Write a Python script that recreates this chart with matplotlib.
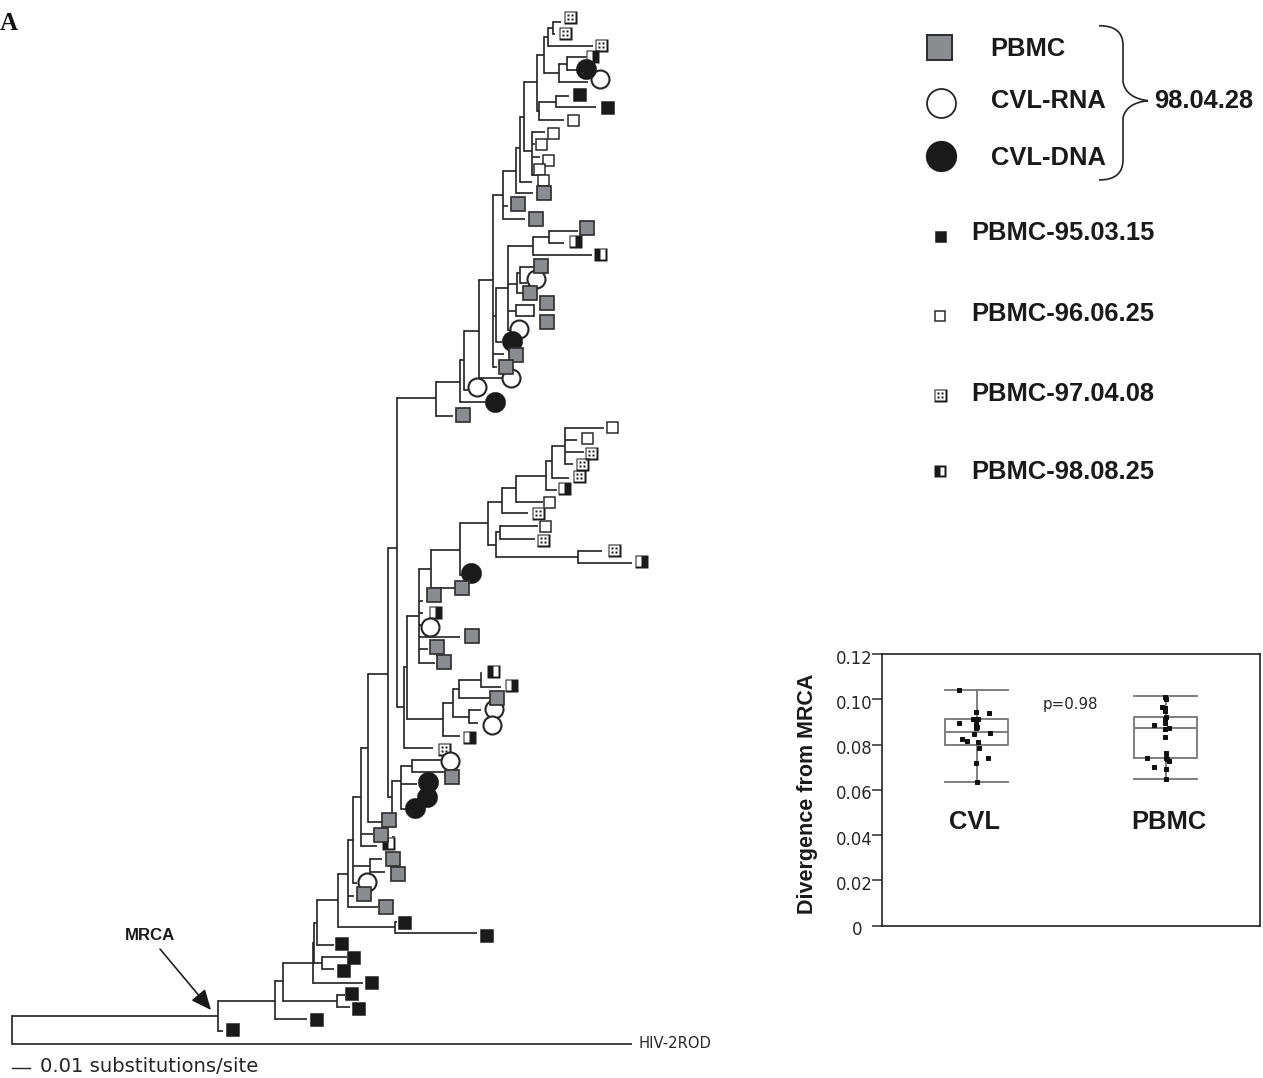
import matplotlib
matplotlib.use("Agg")
import matplotlib.pyplot as plt
from matplotlib.path import Path
from matplotlib.patches import PathPatch
from matplotlib.transforms import ScaledTranslation

# ---------- tree: (node position, [(child position along tips, branch end), ...]) ----------
TREE_NODES = [
    (11.7, [(1016, 217.7), (1044.3, 632)]),
    (217.7, [(1000.7, 275), (1030.7, 223.3)]),
    (275, [(981, 282.7), (1019, 306.7)]),
    (282.7, [(962.7, 312.7), (1000.7, 336.7)]),
    (336.7, [(995, 345), (1006.7, 350)]),
    (312.7, [(943, 312.7), (962.7, 321.7), (983, 362.7)]),
    (314, [(922.7, 316.7), (962.7, 314)]),
    (316.7, [(900, 338.3), (945, 334.3)]),
    (321.7, [(956.7, 346.7), (969.3, 334.3)]),
    (338.3, [(874.3, 348.3), (927.3, 395)]),
    (395, [(921.7, 397.3), (933.3, 477)]),
    (348.3, [(840, 352.7), (895.7, 354.3), (907.3, 378.3)]),
    (352.7, [(797.3, 360.7), (866, 370), (883.3, 356.7)]),
    (370, [(858.7, 382.3), (871.7, 385)]),
    (360.7, [(748.3, 368), (834, 373.3), (846, 376.7)]),
    (394, [(836.7, 392), (848, 384)]),
    (368, [(674.3, 387.7), (822, 381.7)]),
    (388, [(548, 396.7), (796.7, 391.7)]),
    (391.7, [(780.7, 401), (812, 391.7)]),
    (401, [(766, 411.7), (784, 416.7), (809.3, 406.7)]),
    (411.7, [(760, 440.7), (771.7, 445)]),
    (396.7, [(398.3, 435.7), (707.3, 404)]),
    (404, [(666.7, 407.3), (748.3, 432.7)]),
    (407.3, [(615.7, 419.3), (719.3, 442.7)]),
    (419.3, [(569.3, 431), (601, 423.3), (612.7, 423.3), (625, 425),
             (637.3, 460), (649, 427.7), (662.7, 435)]),
    (442.7, [(703.3, 452.7), (736, 460)]),
    (452.7, [(689.3, 459.3), (716.7, 469)]),
    (459.3, [(680, 480.7), (698.3, 490)]),
    (480.7, [(673.3, 480.7), (686.7, 500.7)]),
    (469, [(710, 481), (722.7, 478)]),
    (431, [(550, 460), (587.7, 455)]),
    (460, [(522.7, 488.3), (575, 462)]),
    (488.3, [(501.7, 502.3), (545, 495.7)]),
    (502.3, [(488.3, 515.7), (513.3, 528.3)]),
    (515.7, [(476, 545.7), (501.7, 542.7)]),
    (545.7, [(460.7, 551.7), (490, 556.7)]),
    (551.7, [(446, 565), (478.3, 569)]),
    (565, [(428.3, 604), (440, 577.3), (452, 584.3), (464.3, 573.3)]),
    (495.7, [(531.7, 500), (556.7, 578.3)]),
    (500, [(526, 537.7), (539, 535)]),
    (578.3, [(551.3, 601.7), (563.3, 631.7)]),
    (435.7, [(381.7, 460), (415.7, 453)]),
    (460, [(360, 464.3), (402.3, 486.7)]),
    (464.3, [(330.7, 479.3), (390, 468)]),
    (479.3, [(280, 492.7), (378.3, 502.7)]),
    (492.7, [(195, 503.3), (316, 495.7), (354.3, 504), (366.7, 496.7)]),
    (495.7, [(288.3, 507.7), (342.3, 501.7)]),
    (507.7, [(246, 533.3), (284, 517.3), (310.7, 515.7), (330, 512)]),
    (533.3, [(236.7, 549), (255, 591.7)]),
    (549, [(231.3, 578), (242.7, 564)]),
    (517.3, [(273.3, 520), (292.7, 523)]),
    (520, [(266.7, 534), (283, 527)]),
    (515.7, [(305, 534), (316, 534)]),
    (534, [(305, 534), (316, 534)]),
    (503.3, [(170.7, 516), (205.7, 508), (219, 525)]),
    (516, [(148, 520), (193, 533)]),
    (520, [(116.7, 524.3), (181.7, 532)]),
    (524.3, [(81.7, 536.7), (151, 531.7)]),
    (536.7, [(55, 544), (111, 539.3)]),
    (544, [(37, 548.3), (72.7, 559)]),
    (548.3, [(28, 552.7), (46, 593)]),
    (552.7, [(21.7, 561), (34, 554.7)]),
    (559, [(64, 566.7), (82, 588)]),
    (566.7, [(57, 590), (70, 577)]),
    (539.3, [(101.7, 556.3), (120, 564)]),
    (556.3, [(95.7, 569), (107.3, 595.7)]),
    (531.7, [(131.7, 545), (144, 535), (156.7, 540), (175, 541)]),
    (543, [(163, 545), (175, 545)]),
]

# ---------- tips by sample type ----------
tips_pbmc_950315 = [(231.7, 1028.7), (316.3, 1019), (357.7, 1007.7), (351.3, 993.3), (371.3, 982),
                    (343, 970), (353.3, 956.7), (341.3, 943.3), (403.7, 921.7), (486, 935),
                    (579, 94), (607, 107)]
tips_pbmc_960625 = [(573, 120), (553, 133), (541, 144), (548, 160), (539, 169), (543, 180),
                    (611.7, 427.3), (587, 438), (549, 501.7), (544.7, 526.3)]
tips_pbmc_970408 = [(570, 17), (565, 33), (601, 45), (590.7, 453.3), (582.3, 464.3), (579, 476),
                    (537.7, 512.7), (542.7, 539.7), (614.3, 550.3), (444.3, 748.7)]
tips_pbmc_980825 = [(592, 56, "right"), (574.7, 241.3, "right"), (600, 254, "left"),
                    (563.7, 488, "right"), (641.3, 561.3, "right"), (434.7, 612, "right"),
                    (492.7, 671.3, "left"), (511, 685.3, "right"), (468.7, 737, "right"),
                    (388.3, 843, "left")]
tips_pbmc_980428 = [(544, 193), (518, 204), (536, 219), (587, 227.7), (540.7, 266.3), (529.7, 293),
                    (546.7, 303.3), (546.7, 322.3), (515.7, 355), (505.7, 367), (463, 415.3),
                    (462, 587.7), (434, 595), (471.7, 636), (437.3, 647.3), (443.7, 661.7),
                    (496.7, 698), (452.3, 776.7), (389.3, 820), (381.3, 835), (393.3, 859.3),
                    (398.3, 874), (363.7, 894.3), (386.3, 907.3)]
tips_cvl_rna = [(600, 79), (535.7, 279.3), (518.7, 329.3), (511, 378.3), (476.7, 387.3),
                (430, 626.7), (494, 709.3), (491.7, 725), (450, 761), (366.7, 881.7)]
tips_cvl_dna = [(586, 69), (512.3, 340.7), (495, 401.7), (471, 572.7),
                (428, 781.7), (427.3, 797.3), (415.3, 807.7)]

# ---------- box plot ----------
box_labels = ["CVL", "PBMC"]
cvl_stats = dict(whislo=0.0635, q1=0.0800, med=0.0855, q3=0.0915, whishi=0.1040)
pbmc_stats = dict(whislo=0.0648, q1=0.0740, med=0.0875, q3=0.0922, whishi=0.1013)
cvl_jitter = [-0.093, -0.004, 0.063, -0.093, -0.019, -0.007, 0.005, -0.004, 0, -0.004,
              -0.012, 0.072, -0.076, -0.051, 0.005, 0.012, 0.060, -0.005, 0.002]
cvl_values = [0.1041, 0.0945, 0.0938, 0.0895, 0.0911, 0.0911, 0.0911, 0.0893, 0.0876, 0.0872,
              0.0848, 0.0851, 0.0824, 0.0816, 0.0810, 0.0786, 0.0741, 0.0718, 0.0635]
pbmc_jitter = [-0.002, 0.002, -0.019, -0.005, -0.004, 0.002, -0.002, -0.005, -0.062, 0.018,
               -0.004, -0.004, 0.002, -0.099, 0, 0.005, 0.018, -0.062, 0, 0.002]
pbmc_values = [0.1009, 0.1000, 0.0967, 0.0960, 0.0948, 0.0923, 0.0911, 0.0894, 0.0886, 0.0873,
               0.0867, 0.0833, 0.0761, 0.0741, 0.0741, 0.0738, 0.0729, 0.0702, 0.0692, 0.0648]
y_ticks = [0, 0.02, 0.04, 0.06, 0.08, 0.10, 0.12]
y_tick_labels = ["0", "0.02", "0.04", "0.06", "0.08", "0.10", "0.12"]

# ---------- legend text ----------
legend_top = ["PBMC", "CVL-RNA", "CVL-DNA"]
legend_date = "98.04.28"
legend_lower = ["PBMC-95.03.15", "PBMC-96.06.25", "PBMC-97.04.08", "PBMC-98.08.25"]

DARK = "#262626"
GRAY = "#8a8c8f"
BLACK = "#1a1a1a"
BOLD = "Liberation Sans"

W, H = 1263, 1078
fig = plt.figure(figsize=(W / 72, H / 72), dpi=72, facecolor="white")
ax = fig.add_axes([0, 0, 1, 1])
ax.set_xlim(0, W)
ax.set_ylim(H, 0)
ax.axis("off")
ax.set_zorder(10)


def sq(x0, y0, x1, y1):
    return [(x0, y0), (x1, y0), (x1, y1), (x0, y1), (x0, y0)]


def marker_from(rings):
    verts, codes = [], []
    for r in rings:
        verts += r
        codes += [Path.MOVETO, Path.LINETO, Path.LINETO, Path.LINETO, Path.CLOSEPOLY]
    return Path(verts, codes)


FRAME = [sq(-1, -1, 1, 1), sq(-0.7, 0.7, 0.7, -0.7)]
DOTTED = marker_from(FRAME + [sq(cx - 0.22, cy - 0.22, cx + 0.22, cy + 0.22)
                              for cx, cy in [(-0.3, -0.3), (0.3, -0.3), (-0.3, 0.3), (0.3, 0.3)]])
HALF = {"right": marker_from(FRAME + [sq(0.05, -0.7, 0.7, 0.7)]),
        "left": marker_from(FRAME + [sq(-0.7, -0.7, -0.05, 0.7)])}


def draw_black(pts, ms=13, z=2):
    ax.plot(*zip(*pts), ls="", marker="s", ms=ms, mfc=BLACK, mec=BLACK, mew=0.5, zorder=z)


def draw_white(pts, ms=11, z=2):
    ax.plot(*zip(*pts), ls="", marker="s", ms=ms, mfc="white", mec=DARK, mew=1.5, zorder=z)


def draw_framed(pts, path, ms=13, z=2):
    ax.plot(*zip(*pts), ls="", marker="s", ms=ms, mfc="white", mec="none", zorder=z)
    ax.plot(*zip(*pts), ls="", marker=path, ms=ms, mfc=BLACK, mec="none", zorder=z + 0.1)


def draw_gray(pts, ms=14, z=5):
    ax.plot(*zip(*pts), ls="", marker="s", ms=ms, mfc=GRAY, mec="#303030", mew=1.7, zorder=z)


def draw_rna(pts, ms=18, z=3):
    ax.plot(*zip(*pts), ls="", marker="o", ms=ms, mfc="white", mec=DARK, mew=2.1, zorder=z)


def draw_dna(pts, ms=20.5, z=4):
    ax.plot(*zip(*pts), ls="", marker="o", ms=ms, mfc=BLACK, mec=BLACK, mew=0.3, zorder=z)


# branches
for node_x, kids in TREE_NODES:
    ys = [k[0] for k in kids]
    ax.plot([node_x, node_x], [min(ys), max(ys)], color=DARK, lw=1.7, solid_capstyle="projecting", zorder=1)
    for y, x_end in kids:
        ax.plot([node_x, x_end], [y, y], color=DARK, lw=1.7, solid_capstyle="butt", zorder=1)

# tips
draw_black(tips_pbmc_950315)
draw_white(tips_pbmc_960625)
draw_framed(tips_pbmc_970408, DOTTED)
for x, y, side in tips_pbmc_980825:
    draw_framed([(x, y)], HALF[side])
draw_rna(tips_cvl_rna)
draw_dna(tips_cvl_dna)
draw_gray(tips_pbmc_980428)

# tree annotations
ax.text(150, 936, "MRCA", family=BOLD, weight="bold", fontsize=16.7, ha="center", va="center", color=BLACK)
ax.annotate("", xy=(211, 1010), xytext=(160, 949),
            arrowprops=dict(arrowstyle="-|>,head_length=0.95,head_width=0.42", color=BLACK,
                            lw=1.6, shrinkA=0, shrinkB=0, mutation_scale=18))
ax.text(638, 1044, "HIV-2ROD", fontsize=14.8, ha="left", va="center", color=DARK)
ax.plot([11.7, 30], [1068.3, 1068.3], color=DARK, lw=1.4)
ax.text(40, 1067, "0.01 substitutions/site", fontsize=19.6, ha="left", va="center", color=DARK)
ax.text(0, 24, "A", family="Liberation Serif", weight="bold", fontsize=25, ha="left", va="center", color="#111111")

# upper legend
ax.plot([939], [46.7], ls="", marker="s", ms=25, mfc=GRAY, mec="#303030", mew=2)
ax.plot([940.7], [103.3], ls="", marker="o", ms=29, mfc="white", mec=DARK, mew=1.8)
ax.plot([940.7], [156], ls="", marker="o", ms=31, mfc=BLACK, mec=BLACK, mew=0.3)
for label, y in zip(legend_top, [49, 101, 157.7]):
    ax.text(990.7, y, label, family=BOLD, weight="bold", fontsize=25.5, ha="left", va="center", color=BLACK)
ax.text(1154, 101, legend_date, family=BOLD, weight="bold", fontsize=25.5, ha="left", va="center", color=BLACK)

# brace
brace = Path(
    [(1099, 25.7), (1123, 25.7), (1123, 45), (1123, 82), (1126, 98), (1148, 100.7),
     (1126, 103), (1123, 118), (1123, 160), (1123, 180), (1099, 180)],
    [Path.MOVETO, Path.CURVE3, Path.CURVE3, Path.LINETO, Path.CURVE3, Path.CURVE3,
     Path.CURVE3, Path.CURVE3, Path.LINETO, Path.CURVE3, Path.CURVE3])
ax.add_patch(PathPatch(brace, fc="none", ec=DARK, lw=1.7))

# lower legend
draw_black([(940, 236)], ms=11)
draw_white([(940, 316)], ms=9.5)
draw_framed([(940, 395)], DOTTED, ms=13)
draw_framed([(940, 471)], HALF["left"], ms=12)
for label, y in zip(legend_lower, [233, 314, 394, 472]):
    ax.text(971, y, label, family=BOLD, weight="bold", fontsize=25.5, ha="left", va="center", color=BLACK)

# inset box plot
L, R, T, B = 882.3, 1260, 654, 925.7
bx = fig.add_axes([L / W, 1 - B / H, (R - L) / W, (B - T) / H])
bx.set_xlim(0.5, 2.5)
bx.set_ylim(0, 0.12)
stats = [dict(cvl_stats, label=box_labels[0]), dict(pbmc_stats, label=box_labels[1])]
gray_line = dict(color="#7c7c7c", lw=1.9)
bx.bxp(stats, positions=[1, 2], widths=0.333, showfliers=False, boxprops=gray_line, medianprops=gray_line,
       whiskerprops=gray_line, capprops=gray_line, capwidths=0.333, manage_ticks=False)
bx.plot([1 + j for j in cvl_jitter], cvl_values, ls="", marker="s", ms=4.2, color="#111111", zorder=5)
bx.plot([2 + j for j in pbmc_jitter], pbmc_values, ls="", marker="s", ms=4.2, color="#111111", zorder=5)
bx.set_xticks([])
bx.set_yticks(y_ticks)
bx.set_yticklabels(y_tick_labels, fontsize=16.5, color=DARK)
bx.tick_params(axis="y", length=10, width=1.5, color=DARK, pad=0)
for tl, txt in zip(bx.get_yticklabels(), y_tick_labels):
    dx = -10 if txt == "0" else 0
    tl.set_transform(tl.get_transform() + ScaledTranslation(dx / 72, -2.5 / 72, fig.dpi_scale_trans))
for s in bx.spines.values():
    s.set_linewidth(1.7)
    s.set_color(DARK)
for lab, x in zip(box_labels, [975, 1169]):
    ax.text(x, 822, lab, family=BOLD, weight="bold", fontsize=25.5, ha="center", va="center", color=BLACK)
ax.text(1070, 705, "p=0.98", fontsize=15, ha="center", va="center", color=DARK)
ax.text(808, 794, "Divergence from MRCA", family=BOLD, weight="bold", fontsize=21.5, rotation=90,
        ha="center", va="center", color=BLACK)

fig.savefig("out.png", dpi=72, facecolor="white")
